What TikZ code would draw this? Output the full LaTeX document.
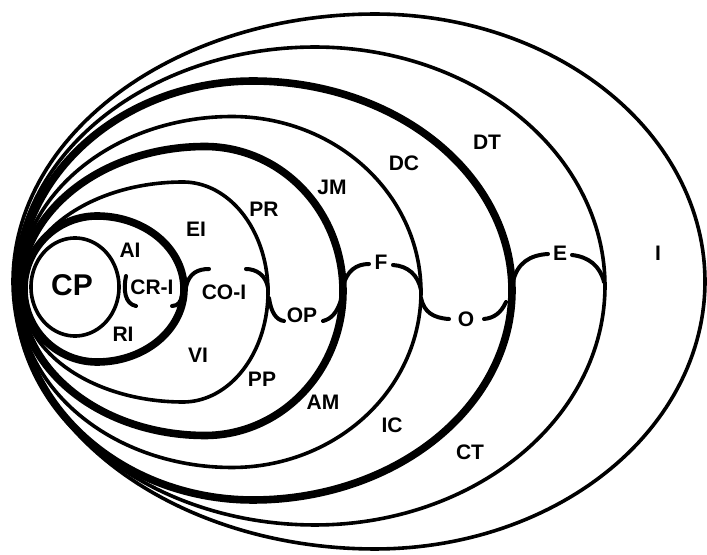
\documentclass[tikz,border=0pt]{standalone}
\usepackage{fontspec}
\setmainfont{Liberation Sans}
\newcommand\eggring[6]{% cx cy rxL rxR ry style
  \draw[#6] plot[domain=90:270,samples=120,variable=\t] ({#1+#3*cos(\t)},{#2+#5*sin(\t)})
    -- plot[domain=270:450,samples=120,variable=\t] ({#1+#4*cos(\t)},{#2+#5*sin(\t)}) -- cycle;}
\begin{document}
\begin{tikzpicture}[x=0.5pt,y=-0.5pt,
  thinring/.style={line width=1.8pt,line join=round},
  thickring/.style={line width=3.8pt,line join=round},
  hook/.style={line width=2pt,line cap=round},
  lab/.style={font=\bfseries\fontsize{10.5}{12}\selectfont,inner sep=0pt},
  biglab/.style={font=\bfseries\fontsize{15}{17}\selectfont,inner sep=0pt}]
\useasboundingbox (0,0) rectangle (707,555);
% rings
\eggring{375}{281.5}{362}{330}{267.5}{thinring}
\eggring{315}{286}{300}{290}{239}{thinring}
\eggring{253}{290.5}{236}{259}{209.5}{thickring}
\eggring{232}{292}{214}{189}{175.5}{thinring}
\eggring{205}{291}{185}{138}{144.5}{thickring}
\eggring{183}{292}{161}{85}{110}{thinring}
\eggring{97}{289}{73}{87}{73}{thickring}
\eggring{75}{287}{44}{44}{49}{thinring}
% labels
\node[biglab] (cp) at (72,285) {CP};
\node[lab] (ai) at (130,250) {AI};
\node[lab] (cri) at (152,287) {CR-I};
\node[lab] (ri) at (123,334) {RI};
\node[lab] (ei) at (196,229) {EI};
\node[lab] (coi) at (224,292) {CO-I};
\node[lab] (vi) at (198,355) {VI};
\node[lab] (pr) at (264,209) {PR};
\node[lab] (op) at (302,315) {OP};
\node[lab] (pp) at (262,379) {PP};
\node[lab] (jm) at (332,187) {JM};
\node[lab] (f) at (381,262) {F};
\node[lab] (am) at (323,402) {AM};
\node[lab] (dc) at (404,163) {DC};
\node[lab] (o) at (466,319) {O};
\node[lab] (ic) at (392,425) {IC};
\node[lab] (dt) at (487,142) {DT};
\node[lab] (e) at (560,253) {E};
\node[lab] (ct) at (470,452) {CT};
\node[lab] (i) at (658,253) {I};
% hooks
\draw[hook] (126,276) .. controls (123,290) and (125,304) .. (136,306);
\draw[hook] (172,306) .. controls (178,306) and (181,302) .. (182,295);
\draw[hook] (186,287) .. controls (189,273) and (198,269) .. (209,269);
\draw[hook] (246,269) .. controls (256,269) and (266,275) .. (268,288);
\draw[hook] (269,298) .. controls (271,312) and (276,320) .. (284,321);
\draw[hook] (323,321) .. controls (331,319) and (337,313) .. (341,300);
\draw[hook] (343,286) .. controls (347,271) and (356,264) .. (369,264);
\draw[hook] (393,265) .. controls (408,266) and (418,275) .. (421,290);
\draw[hook] (421,298) .. controls (424,312) and (433,318) .. (449,319);
\draw[hook] (484,319) .. controls (494,318) and (501,313) .. (506,302);
\draw[hook] (513,282) .. controls (517,263) and (530,255) .. (548,254);
\draw[hook] (572,255) .. controls (589,257) and (600,266) .. (604,282);
\end{tikzpicture}
\end{document}
